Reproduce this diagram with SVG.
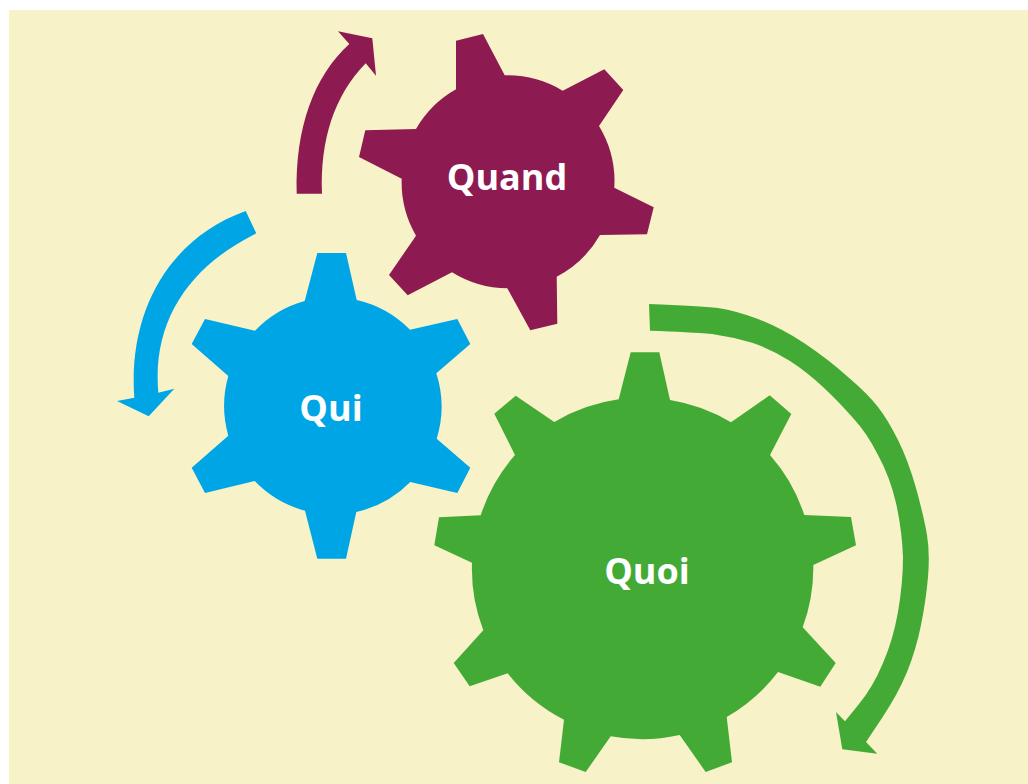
<svg xmlns="http://www.w3.org/2000/svg" width="1028" height="784" viewBox="0 0 1028 784">
<style>
.t{font-family:"Open Sans","Noto Sans",sans-serif;font-weight:700;font-size:36px;fill:#fff;text-anchor:middle}
.g{fill:#44aa36}.b{fill:#00a5e5}.m{fill:#8e1a52}
</style>
<rect width="1028" height="784" fill="#ffffff"/>
<rect x="9" y="10" width="1019" height="774" fill="#f7f2c7"/>
<g id="connectors">
<path class="m" d="M296.7 193.7 L322 193.7 C320 140 334 96 365.7 63.3 L376 75.7 L372.3 38.3 L338 31.3 L349.3 44 C314 76 295 128 296.7 193.7Z"/>
<path class="b" d="M245.7 211 L256.3 233.3 C190 266 152 320 158.3 392.7 L174.3 388.7 L148.7 416.3 L117 401 L134.3 397.700 C128 310 170 238 245.7 211Z"/>
<path class="g" d="M649 304 Q700 306 718 308 Q737 311 758 319 Q781 328 804 343 Q828 359 848 377 Q868 394 878 407 Q888 420 898 440 Q908 460 916 488 Q924 517 927 535 Q930 553 928 577 Q926 600 921 625 Q916 650 907 672 Q898 694 882 718 L866 742 L877.300 753.700 L842.300 749.300 L836 712 L845 721.300 L859 704 Q873 687 883 663 Q893 640 898 612 Q903 583 903 557 Q902 530 896 503 Q890 477 878 455 Q867 433 853 418 Q840 403 823 387 Q807 372 790 361 Q773 350 753 343 Q733 337 712 334 Q690 332 650 330.700Z"/>
</g>
<g id="quand">
<path class="m" d="M456 40.7 L483 34 L504.7 75.3 A106.500 106.500 0 0 1 562.700 90.700 L604.300 69.300 L623.300 90 L599 126 A106.500 106.500 0 0 1 614.300 187.700 L653.700 207.300 L647 234.300 L600 235 A106.500 106.500 0 0 1 556.700 276.700 L557.300 323.700 L530.300 330.300 L507.300 288.300 A106.500 106.500 0 0 1 452 272.300 L407.700 295.300 L389 275 L416 235.700 A106.500 106.500 0 0 1 401.700 178.700 L359 157 L365.300 130.300 L416 129 A106.500 106.500 0 0 1 456 89.300Z"/>
<text class="t" x="507" y="190">Quand</text>
</g>
<g id="qui">
<path class="b" d="M317.300 253 L346 253 L356.700 300 A109 109 0 0 1 410 329.700 L457.300 319 L470.300 344 L436.300 373.300 A109 109 0 0 1 436.700 438.700 L470.300 467.700 L457.300 493 L410.300 482 A109 109 0 0 1 356.300 512 L346 558.700 L317.300 558.700 L305 510.700 A109 109 0 0 1 254.700 481 L205 493 L191.700 467.700 L228.300 435.700 A109 109 0 0 1 228.300 376 L191.700 344 L205 319 L255 330.700 A109 109 0 0 1 304.700 301Z"/>
<text class="t" x="331" y="421">Qui</text>
</g>
<g id="quoi">
<path class="g" d="M630.700 352.300 L659.300 352.300 L670 400 A171 171 0 0 1 731 422.300 L769.700 395.300 L791.300 414 L770 455 A171 171 0 0 1 804.300 515 L851 517 L856 545.300 L813.300 565 A171 171 0 0 1 802.700 627.300 L835.700 663 L820.300 686.700 L778 672 A171 171 0 0 1 726.700 717 L732 762.300 L705.700 772 L679.700 735 A171 171 0 0 1 610.700 736.300 L585.700 772 L559 762.300 L564 719.700 A171 171 0 0 1 507.700 673.300 L469.700 686.300 L453.700 663 L483.300 630.300 A171 171 0 0 1 472 562.700 L434.300 545.300 L439 517.300 L480.700 515.300 A171 171 0 0 1 515 455 L494.300 413.700 L515.700 395.700 L554.300 422 A171 171 0 0 1 618.700 399.300Z"/>
<text class="t" x="647" y="584">Quoi</text>
</g>
</svg>
